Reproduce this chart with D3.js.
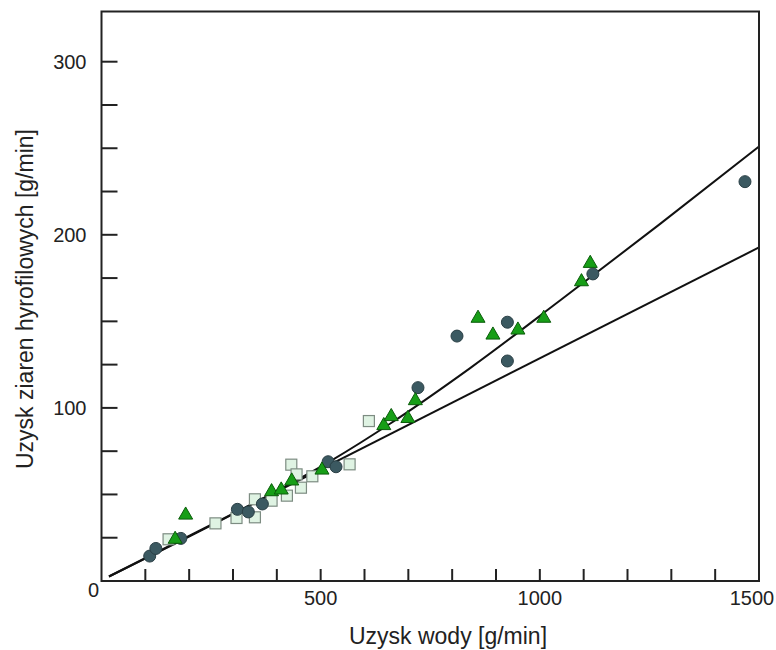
<!DOCTYPE html>
<html>
<head>
<meta charset="utf-8">
<script src="https://cdn.jsdelivr.net/npm/d3@7"></script>
<style>
  body { margin: 0; background: #fff; }
  text { font-family: "Liberation Sans", Arial, sans-serif; fill: #222; }
</style>
</head>
<body>
<svg id="chart"></svg>
<script>
var width = 776, height = 650;

// data: [water g/min, grains g/min]
var circles = [[110,14.4],[124,18.8],[181,24.6],[310,41.4],[335,39.9],[367,44.5],
  [517,68.9],[535,66.0],[722,111.7],[811,141.5],[926,149.5],[926,127.1],[1121,177.4],[1468,230.7]];
var triangles = [[168,24.1],[192,38.1],[388,51.6],[410,52.6],[434,57.8],[503,64.1],
  [644,89.8],[661,95.0],[699,93.9],[716,104.2],[859,151.8],[893,142.1],[950,145.0],
  [1009,151.8],[1095,172.9],[1115,183.5]];
var squares = [[153,24.1],[260,33.3],[308,36.4],[350,47.2],[350,36.8],[388,46.4],
  [423,49.3],[433,67.2],[445,61.6],[455,53.9],[481,60.5],[566,67.4],[610,92.4]];

var fitUpper = [[17,2.6],[340,44],[527,70],[659,91],[841,123],[1046,162],[1273,206],[1500,251]];
var fitLower = [[17,2.6],[1500,192.7]];

var xTicks = d3.range(100, 1500, 100);
var yTicks = d3.range(25, 301, 25);
var xLabels = [500, 1000, 1500];
var yLabels = [100, 200, 300];

var svg = d3.select("#chart").attr("width", width).attr("height", height);

var x = d3.scaleLinear().domain([0, 1500]).range([101.5, 759]);
var y = d3.scaleLinear().domain([0, 329]).range([581, 11.5]);

// fit lines
var line = d3.line()
    .x(function(d) { return x(d[0]); })
    .y(function(d) { return y(d[1]); })
    .curve(d3.curveMonotoneX);

[fitUpper, fitLower].forEach(function(s) {
  svg.append("path")
      .attr("d", line(s))
      .attr("fill", "none")
      .attr("stroke", "#111")
      .attr("stroke-width", 2);
});

// markers
svg.selectAll(".sq").data(squares).enter().append("rect")
    .attr("class", "sq")
    .attr("x", function(d) { return x(d[0]) - 5.5; })
    .attr("y", function(d) { return y(d[1]) - 5.5; })
    .attr("width", 11).attr("height", 11)
    .attr("fill", "#dff3e3").attr("stroke", "#7d8c82").attr("stroke-width", 1.2);

svg.selectAll(".ci").data(circles).enter().append("circle")
    .attr("class", "ci")
    .attr("cx", function(d) { return x(d[0]); })
    .attr("cy", function(d) { return y(d[1]); })
    .attr("r", 6)
    .attr("fill", "#3b5961").attr("stroke", "#2a3f45").attr("stroke-width", 1);

var tri = d3.symbol().type(d3.symbolTriangle).size(85);
svg.selectAll(".tr").data(triangles).enter().append("path")
    .attr("class", "tr")
    .attr("d", tri)
    .attr("transform", function(d) { return "translate(" + x(d[0]) + "," + y(d[1]) + ")"; })
    .attr("fill", "#179e17").attr("stroke", "#0b5c0b").attr("stroke-width", 1);

// frame
svg.append("rect")
    .attr("x", x(0)).attr("y", y(329))
    .attr("width", x(1500) - x(0)).attr("height", y(0) - y(329))
    .attr("fill", "none").attr("stroke", "#222").attr("stroke-width", 2);

// inward ticks
svg.selectAll(".xt").data(xTicks).enter().append("line")
    .attr("x1", function(d) { return x(d); }).attr("x2", function(d) { return x(d); })
    .attr("y1", y(0)).attr("y2", y(0) - 12)
    .attr("stroke", "#222").attr("stroke-width", 2);

svg.selectAll(".yt").data(yTicks).enter().append("line")
    .attr("y1", function(d) { return y(d); }).attr("y2", function(d) { return y(d); })
    .attr("x1", x(0)).attr("x2", x(0) + 16)
    .attr("stroke", "#222").attr("stroke-width", 2);

// tick labels
svg.selectAll(".xl").data(xLabels).enter().append("text")
    .attr("x", function(d) { return Math.min(x(d), width - 24); })
    .attr("y", y(0) + 24)
    .attr("text-anchor", "middle")
    .style("font-size", "20px")
    .text(function(d) { return d; });

svg.selectAll(".yl").data(yLabels).enter().append("text")
    .attr("x", x(0) - 15)
    .attr("y", function(d) { return y(d); })
    .attr("dy", "0.35em")
    .attr("text-anchor", "end")
    .style("font-size", "20px")
    .text(function(d) { return d; });

svg.append("text")
    .attr("x", x(0) - 8).attr("y", y(0) + 9).attr("dy", "0.35em")
    .attr("text-anchor", "middle")
    .style("font-size", "20px")
    .text("0");

// axis titles
svg.append("text")
    .attr("x", 448).attr("y", 644)
    .attr("text-anchor", "middle")
    .style("font-size", "23px")
    .text("Uzysk wody [g/min]");

svg.append("text")
    .attr("transform", "translate(33,299) rotate(-90)")
    .attr("text-anchor", "middle")
    .style("font-size", "23px")
    .text("Uzysk ziaren hyrofilowych [g/min]");
</script>
</body>
</html>
